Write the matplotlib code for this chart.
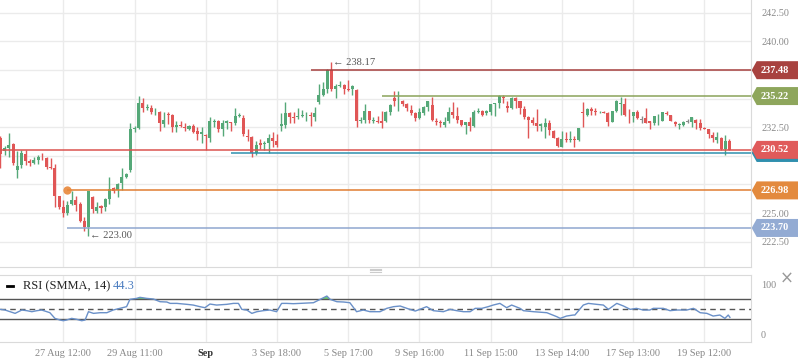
import matplotlib
matplotlib.use("Agg")
import matplotlib.pyplot as plt
import numpy as np
from matplotlib.patches import Polygon
from matplotlib.lines import Line2D
from matplotlib.transforms import blended_transform_factory

plt.rcParams['font.family'] = ['Liberation Serif', 'DejaVu Sans']

# ---------------- data ----------------
opens = [231.60, 230.44, 230.67, 231.05, 228.78, 229.16, 230.18, 229.51, 229.33, 229.62,
         229.94, 229.83, 229.04, 228.93, 226.45, 225.49, 225.02, 225.78, 226.13, 225.78,
         224.27, 223.74, 226.42, 225.20, 225.58, 225.49, 226.22, 227.15, 227.00, 227.59,
         228.11, 228.75, 232.30, 232.39, 234.63, 234.17, 234.17, 233.79, 233.85, 232.77,
         233.64, 233.55, 232.48, 232.71, 232.54, 232.33, 232.59, 232.13, 231.95, 231.84,
         231.60, 232.94, 233.06, 232.30, 232.91, 232.97, 232.83, 233.50, 233.29, 231.75,
         231.63, 230.29, 231.08, 231.02, 231.08, 231.55, 231.31, 232.62, 232.68, 233.70,
         233.41, 233.41, 233.50, 233.53, 233.58, 233.41, 234.66, 235.33, 235.83, 237.48,
         235.83, 236.12, 236.20, 235.83, 235.88, 235.77, 233.06, 233.12, 233.93, 233.06,
         233.06, 233.00, 233.00, 233.87, 235.01, 234.75, 234.81, 234.57, 233.99, 233.76,
         233.29, 233.70, 234.28, 234.46, 233.06, 232.97, 232.71, 233.00, 233.85, 233.50,
         233.12, 232.71, 232.97, 232.62, 233.79, 233.93, 233.70, 233.85, 234.57, 234.63,
         235.16, 234.37, 234.14, 235.01, 234.75, 234.08, 233.35, 233.15, 232.91, 232.62,
         232.56, 232.91, 232.19, 231.55, 230.79, 231.46, 231.40, 231.46, 231.40, 233.79,
         233.58, 234.08, 233.93, 233.79, 233.85, 233.70, 232.97, 233.93, 234.57, 234.57,
         233.58, 233.50, 233.79, 233.16, 233.29, 233.06, 232.91, 233.00, 233.06, 233.73,
         233.58, 232.97, 232.71, 232.71, 232.94, 232.97, 233.15, 232.91, 232.42, 232.33,
         231.84, 231.40, 231.60, 230.59, 231.31]
highs = [231.70, 230.88, 232.01, 231.14, 230.44, 230.50, 230.50, 229.71, 229.86, 230.06,
         230.29, 229.86, 229.83, 229.25, 226.51, 226.16, 226.07, 226.89, 226.51, 225.93,
         224.70, 226.95, 226.51, 225.93, 225.72, 226.28, 228.17, 227.24, 227.62, 228.93,
         228.46, 232.91, 232.62, 235.24, 235.04, 234.52, 234.46, 234.22, 233.93, 233.87,
         233.79, 233.61, 233.00, 233.06, 232.91, 232.68, 232.77, 232.54, 232.48, 231.95,
         233.41, 233.18, 233.12, 233.12, 233.12, 232.97, 234.22, 233.70, 233.58, 232.33,
         231.72, 231.31, 231.46, 231.31, 231.90, 232.04, 231.90, 233.73, 234.72, 233.79,
         233.79, 234.17, 234.02, 233.79, 233.79, 234.28, 236.26, 236.41, 237.57, 238.17,
         236.26, 236.55, 236.26, 236.64, 236.15, 235.80, 233.35, 234.57, 233.93, 233.41,
         233.44, 233.93, 233.93, 234.52, 235.62, 235.62, 234.84, 234.60, 234.43, 233.79,
         234.14, 234.37, 234.81, 235.10, 233.29, 233.12, 233.41, 234.28, 234.72, 234.28,
         233.15, 232.97, 233.41, 234.02, 234.14, 234.02, 234.02, 234.57, 234.63, 235.33,
         235.30, 234.81, 235.16, 235.16, 234.75, 234.37, 233.50, 233.41, 234.08, 232.83,
         233.29, 233.12, 232.24, 231.66, 232.19, 232.04, 232.19, 231.69, 232.42, 234.66,
         234.22, 234.28, 234.17, 233.93, 233.93, 233.85, 233.93, 234.87, 235.16, 235.04,
         234.08, 233.79, 234.02, 233.44, 234.19, 233.06, 233.50, 233.64, 233.79, 233.93,
         233.58, 233.06, 232.91, 233.06, 233.21, 233.41, 233.21, 233.21, 232.48, 232.33,
         232.10, 232.10, 231.66, 231.84, 231.46]
lows = [228.90, 230.06, 229.86, 229.22, 228.02, 228.98, 229.22, 229.07, 229.28, 229.25,
        229.62, 228.81, 228.84, 225.49, 225.35, 224.68, 224.85, 225.72, 225.20, 224.18,
        223.45, 223.00, 224.97, 224.97, 225.02, 225.14, 225.78, 226.77, 226.42, 227.00,
        228.05, 228.63, 232.10, 232.33, 233.87, 233.99, 233.64, 233.58, 232.13, 232.48,
        232.77, 232.04, 232.04, 232.48, 232.19, 232.24, 232.01, 231.37, 231.08, 230.50,
        231.17, 232.48, 232.10, 231.75, 232.36, 232.19, 232.71, 233.35, 231.72, 231.31,
        229.92, 230.03, 230.59, 230.50, 230.29, 230.79, 230.73, 232.13, 232.39, 232.83,
        232.83, 233.21, 233.35, 233.00, 232.62, 233.06, 234.52, 235.24, 235.53, 235.68,
        235.01, 235.97, 235.36, 235.68, 235.30, 232.56, 232.91, 232.91, 232.83, 232.89,
        232.89, 232.39, 232.97, 233.58, 234.31, 233.93, 234.31, 233.93, 233.58, 233.00,
        233.21, 233.58, 233.93, 233.06, 232.71, 232.56, 232.56, 232.91, 233.29, 232.91,
        232.62, 231.95, 232.19, 232.54, 233.70, 233.50, 233.58, 233.58, 233.50, 234.22,
        234.63, 233.79, 234.08, 234.22, 233.64, 233.21, 231.52, 232.71, 232.13, 232.19,
        231.60, 231.84, 231.52, 230.79, 230.73, 231.23, 231.17, 230.79, 231.31, 232.54,
        233.44, 233.58, 233.58, 233.70, 233.70, 232.62, 232.97, 233.79, 233.58, 233.44,
        232.91, 232.97, 233.21, 232.86, 232.83, 232.33, 232.68, 232.71, 233.06, 233.55,
        233.00, 232.62, 232.33, 232.62, 232.83, 232.56, 232.33, 232.27, 232.30, 231.60,
        231.17, 231.08, 230.50, 230.06, 230.50]
closes = [230.15, 230.67, 230.96, 229.33, 229.10, 230.21, 229.51, 229.33, 229.60, 229.92,
          229.86, 229.04, 228.93, 226.45, 225.49, 225.05, 225.69, 226.13, 225.72, 224.27,
          223.74, 226.89, 225.34, 225.55, 225.40, 226.22, 227.09, 226.89, 227.53, 228.11,
          228.40, 232.33, 232.39, 234.63, 234.22, 234.28, 233.87, 233.87, 232.83, 233.12,
          233.55, 232.48, 232.68, 232.62, 232.42, 232.59, 232.10, 231.95, 232.10, 231.72,
          233.06, 233.06, 232.33, 232.91, 233.00, 232.83, 233.50, 233.58, 231.87, 231.63,
          230.29, 230.96, 230.96, 231.11, 231.55, 231.31, 230.96, 232.77, 233.70, 233.41,
          233.29, 233.50, 233.58, 233.58, 233.44, 233.70, 235.33, 235.83, 237.48, 235.80,
          236.12, 236.20, 235.80, 235.74, 236.12, 233.06, 233.15, 233.93, 233.12, 233.12,
          232.97, 232.91, 233.79, 234.46, 234.75, 234.81, 234.57, 234.14, 233.70, 233.29,
          233.79, 234.28, 234.81, 233.15, 232.97, 232.83, 232.97, 233.85, 233.58, 233.12,
          232.71, 232.97, 232.62, 233.85, 233.93, 233.58, 233.93, 234.52, 234.63, 235.24,
          235.04, 234.14, 235.01, 234.75, 234.14, 233.35, 233.12, 232.91, 232.62, 232.77,
          232.91, 232.27, 231.60, 230.88, 231.46, 231.40, 231.46, 231.37, 232.42, 233.70,
          234.08, 233.93, 233.87, 233.85, 233.70, 232.97, 233.93, 234.81, 234.63, 233.58,
          233.53, 233.79, 233.29, 233.16, 232.91, 232.91, 233.50, 233.06, 233.79, 233.64,
          233.00, 232.77, 232.77, 232.97, 232.94, 233.41, 232.91, 232.39, 232.36, 231.90,
          231.52, 231.66, 230.59, 231.31, 230.52]

xtick_bars = [15, 32, 49, 66, 83, 100, 117, 134, 151, 168]
xtick_labels = ["27 Aug 12:00", "29 Aug 11:00", "Sep", "3 Sep 18:00", "5 Sep 17:00",
                "9 Sep 16:00", "11 Sep 15:00", "13 Sep 14:00", "17 Sep 13:00", "19 Sep 12:00"]

price_ticks = [222.5, 225.0, 227.5, 230.0, 232.5, 235.0, 237.5, 240.0, 242.5]
price_tick_labels = ["222.50", "225.00", "", "", "232.50", "", "", "240.00", "242.50"]

level_prices = [237.48, 235.22, 230.25, 230.52, 226.98, 223.70]
level_start_bar = [74, 91, 55, 0, 16, 16]
level_colors = ["#a6403e", "#8aa35a", "#2f8fae", "#db5350", "#e07d32", "#8fa7cf"]
tag_colors = ["#a8423f", "#8ea65c", "#2f8fae", "#e05a5a", "#e38a3e", "#93abd3"]
tag_texts = ["237.48", "235.22", "", "230.52", "226.98", "223.70"]

high_label_bar, high_label_price = 79, 238.17
low_label_bar, low_label_price = 21, 223.00
pivot_bar, pivot_price = 16, 226.98

rsi_bar = [0, 1.1, 2.3, 3.5, 4.3, 5.1, 6.3, 7.5, 8.7, 9.8, 10.6, 11.8, 13.0, 14.2, 15.0, 15.8,
           17.0, 18.2, 19.4, 20.2, 21.0, 22.2, 23.8, 25.4, 26.9, 28.5, 30.1, 30.9, 32.5, 33.3,
           34.9, 36.5, 38.1, 39.7, 40.5, 42.1, 44.5, 46.0, 47.6, 48.8, 50.0, 51.6, 54.0, 55.6,
           56.8, 57.6, 58.8, 60.0, 61.2, 62.7, 64.3, 65.9, 67.1, 68.3, 69.9, 71.5, 74.7, 76.3,
           77.9, 78.7, 80.3, 81.9, 83.4, 85.0, 86.6, 88.2, 90.6, 92.2, 93.8, 95.4, 97.7, 99.0,
           100.1, 101.7, 103.3, 105.7, 107.3, 108.9, 110.5, 112.1, 113.3, 114.9, 116.4, 117.6,
           119.2, 120.8, 122.0, 124.0, 124.8, 127.2, 130.4, 132.8, 133.6, 135.1, 136.7, 137.1,
           139.1, 140.3, 142.3, 143.9, 145.1, 147.1, 148.7, 150.3, 151.8, 153.4, 155.0, 155.8,
           158.2, 159.8, 161.4, 163.8, 165.4, 167.0, 168.6, 170.1, 171.7, 172.9, 173.7, 174.1]
rsi_val = [50.0, 48.7, 45.4, 42.1, 45.4, 48.7, 47.4, 45.4, 47.4, 48.7, 46.7, 43.4, 32.2, 29.0,
           27.6, 29.0, 32.2, 30.3, 27.6, 29.0, 45.4, 42.1, 43.4, 43.4, 48.7, 52.0, 55.3, 69.7,
           71.7, 73.7, 71.7, 70.4, 65.1, 64.5, 61.8, 61.8, 59.9, 58.5, 55.3, 53.3, 60.5, 58.5,
           59.9, 61.8, 61.8, 50.0, 48.7, 42.1, 45.4, 47.4, 48.7, 45.4, 61.8, 61.8, 61.2, 61.8,
           63.1, 69.7, 76.3, 69.7, 65.1, 64.5, 63.1, 45.4, 48.7, 45.4, 45.4, 52.0, 55.3, 56.6,
           50.0, 46.7, 50.0, 55.3, 47.4, 45.4, 50.0, 47.4, 45.4, 45.4, 52.0, 52.0, 55.3, 58.5,
           61.8, 53.3, 58.5, 52.0, 47.4, 45.4, 43.4, 35.5, 32.2, 36.8, 38.8, 38.8, 58.5, 61.8,
           59.9, 58.5, 50.0, 61.8, 56.6, 50.0, 52.0, 48.7, 48.7, 52.0, 52.0, 47.4, 48.7, 48.7,
           52.0, 43.4, 42.1, 36.8, 38.8, 32.2, 38.8, 34.2]
rsi_levels = [30, 50, 70]
rsi_ticks = [0, 100]
rsi_name = "RSI (SMMA, 14)"
rsi_value_text = "44.3"

# ---------------- figure ----------------
W, H = 798, 363
fig = plt.figure(figsize=(W / 100, H / 100), dpi=100)
fig.patch.set_facecolor("white")

plot_w = 750.7
ax = fig.add_axes([0, 1 - 267 / H, plot_w / W, 267 / H])
ax2 = fig.add_axes([0, 1 - 342 / H, plot_w / W, 67 / H])

xlim = (-0.107, 179.06)
ylim = (220.29, 243.61)
ax.set_xlim(*xlim)
ax.set_ylim(*ylim)
ax2.set_xlim(*xlim)
ax2.set_ylim(-14.4, 117.8)

grid_c = "#ebebeb"
border_c = "#dadada"
for a in (ax, ax2):
    a.set_facecolor("white")
    a.spines["left"].set_visible(False)
    a.spines["right"].set_color(border_c)
    a.spines["bottom"].set_color(border_c)
    a.spines["top"].set_color(border_c)
    a.set_xticks(xtick_bars)
    a.grid(True, color=grid_c, linewidth=1, zorder=0)
    a.set_axisbelow(True)
ax.spines["top"].set_visible(False)

# main price axis
ax.set_yticks(price_ticks)
ax.set_yticklabels(price_tick_labels)
ax.yaxis.tick_right()
ax.tick_params(axis="y", length=0, pad=7.5, labelsize=7.3, labelcolor="#8a8a8a")
ax.tick_params(axis="x", length=0, labelbottom=False)

# candles
o = np.array(opens); h = np.array(highs); l = np.array(lows); c = np.array(closes)
idx = np.arange(len(o))
green, red, grey = "#55a878", "#e05656", "#8a8a8a"
cols = [green if cc > oo else (red if cc < oo else grey) for oo, cc in zip(o, c)]
ax.vlines(idx, l, h, colors=cols, linewidth=1, zorder=3)
body_b = np.minimum(o, c)
body_h = np.maximum(np.abs(c - o), 0.07)
ax.bar(idx, body_h, bottom=body_b, width=0.72, color=cols, linewidth=0, zorder=4)

# horizontal level lines
for p, s, col in zip(level_prices, level_start_bar, level_colors):
    ax.hlines(p, s, xlim[1], colors=col, linewidth=1.1, zorder=5)
ax.plot([pivot_bar], [pivot_price], "o", color="#e8873a", ms=6, alpha=0.9, zorder=6,
        markeredgewidth=0)

# price tags on the right
trans = blended_transform_factory(ax.transAxes, ax.transData)
px_per_unit = 267 / (ylim[1] - ylim[0])
half = 9 / px_per_unit
tip = 1 + 1 / plot_w
sh = 1 + 6 / plot_w
end = 1 + 60 / plot_w
for p, col, txt in zip(level_prices, tag_colors, tag_texts):
    poly = Polygon([[tip, p], [sh, p + half], [end, p + half], [end, p - half], [sh, p - half]],
                   closed=True, facecolor=col, edgecolor="none", transform=trans,
                   clip_on=False, zorder=10)
    ax.add_patch(poly)
    if txt:
        ax.text(1 + 24 / plot_w, p, txt, transform=trans, ha="center", va="center",
                color="white", fontsize=7.4, fontweight="bold", zorder=11, clip_on=False)

# high / low labels
ax.text(high_label_bar + 0.45, high_label_price, "\u2190 %.2f" % high_label_price,
        ha="left", va="center", fontsize=7.6, color="#555555", zorder=7)
ax.text(low_label_bar + 0.45, low_label_price, "\u2190 %.2f" % low_label_price,
        ha="left", va="center", fontsize=7.6, color="#555555", zorder=7)

# ---------------- RSI panel ----------------
rb = np.array(rsi_bar); rv = np.array(rsi_val)
ax2.fill_between(rb, rv, 70, where=rv > 70, interpolate=True, color="#6fd36f", linewidth=0, zorder=2)
ax2.fill_between(rb, rv, 30, where=rv < 30, interpolate=True, color="#f0a0a0", linewidth=0, zorder=2)
for lv in rsi_levels:
    ax2.axhline(lv, color="#555555", linewidth=1, linestyle="--" if lv == 50 else "-",
                dashes=(4, 3) if lv == 50 else (None, None), zorder=3)
ax2.plot(rb, rv, color="#6a90c8", linewidth=1, zorder=4)
ax2.set_yticks(rsi_ticks)
ax2.set_yticklabels([str(t) for t in rsi_ticks])
ax2.yaxis.tick_right()
ax2.tick_params(axis="y", length=0, pad=7.5, labelsize=7.3, labelcolor="#8a8a8a")
ax2.yaxis.grid(False)
ax2.set_xticklabels(xtick_labels)
ax2.tick_params(axis="x", length=0, pad=5, labelsize=7.4, labelcolor="#888888")
for t in ax2.get_xticklabels():
    if t.get_text() == "Sep":
        t.set_color("#333333")
        t.set_fontweight("bold")

# legend of RSI
fig.add_artist(Line2D([7 / W, 13 / W], [1 - 286 / H] * 2, color="black", linewidth=2))
fig.text(23 / W, 1 - 286 / H, rsi_name, ha="left", va="center", fontsize=8.9, color="#222222")
fig.text(113 / W, 1 - 286 / H, rsi_value_text, ha="left", va="center", fontsize=8.9, color="#4a7cc0")
fig.text(787 / W, 1 - 279 / H, "\u00d7", ha="center", va="center", fontsize=12, color="#999999",
         family=["DejaVu Sans"])
# panel resize handle
for dy in (-1.5, 0, 1.5):
    fig.add_artist(Line2D([370 / W, 381 / W], [1 - (270 + dy) / H] * 2, color="#cccccc", linewidth=0.8))

fig.savefig("out.png", dpi=100, facecolor="white")
